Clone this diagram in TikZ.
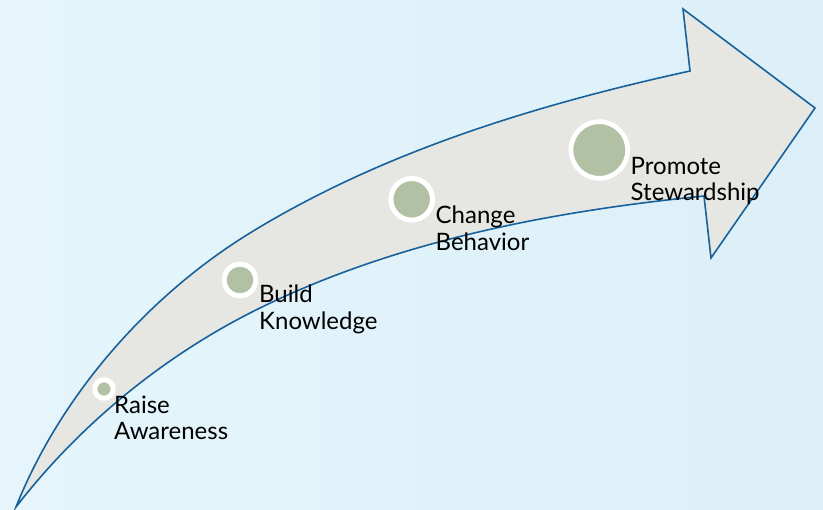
\documentclass[tikz,border=0pt]{standalone}
\usepackage{fontspec}
\setmainfont{Lato}
\definecolor{bgL}{HTML}{E5F5FB}
\definecolor{bgR}{HTML}{DCEFF8}
\definecolor{arrowfill}{HTML}{E6E7E3}
\definecolor{arrowline}{HTML}{17629C}
\definecolor{dotgreen}{HTML}{B2C1A3}
\begin{document}
\begin{tikzpicture}[x=1pt,y=-1pt,
  stage/.style={circle, fill=dotgreen, draw=white, line width=5pt, inner sep=0pt},
  stagetext/.style={anchor=base west, inner sep=0pt, align=left, font=\fontsize{24}{26.5}\selectfont, text=black}]
\shade[left color=bgL, right color=bgR] (0,0) rectangle (823,510);
\useasboundingbox (0,0) rectangle (823,510);
\coordinate (tail) at (16,507);
\coordinate (upmid) at (250,233);
\coordinate (upend) at (690,71);
\coordinate (barbtop) at (683,9);
\coordinate (tip) at (815,108);
\coordinate (barbbot) at (711,258);
\coordinate (lowend) at (704,196);
\coordinate (lowmid) at (260,308);
\filldraw[fill=arrowfill, draw=arrowline, line width=1.6pt, line join=miter]
  (tail) .. controls (60.4,395.4) and (147.9,295.8) .. (upmid)
  .. controls (382.8,151.4) and (537.6,104.4) .. (upend)
  -- (barbtop) -- (tip) -- (barbbot) -- (lowend)
  .. controls (551.8,211.3) and (397.4,240.7) .. (lowmid)
  .. controls (165.7,354.2) and (80,424) .. (tail) -- cycle;
\node[stage, minimum size=18.5pt] (raise) at (104,389) {};
\node[stage, minimum size=31.6pt] (build) at (240,280) {};
\node[stage, minimum size=41.6pt] (change) at (411.7,199.3) {};
\node[stage, minimum size=56.7pt, line width=4.7pt] (promote) at (599.3,150) {};
\node[stagetext] (raiset) at (114,440) {Raise\\Awareness};
\node[stagetext] (buildt) at (259,329.5) {Build\\Knowledge};
\node[stagetext] (changet) at (435.5,250.5) {Change\\Behavior};
\node[stagetext] (promotet) at (630.5,201) {Promote\\Stewardship};
\end{tikzpicture}
\end{document}
